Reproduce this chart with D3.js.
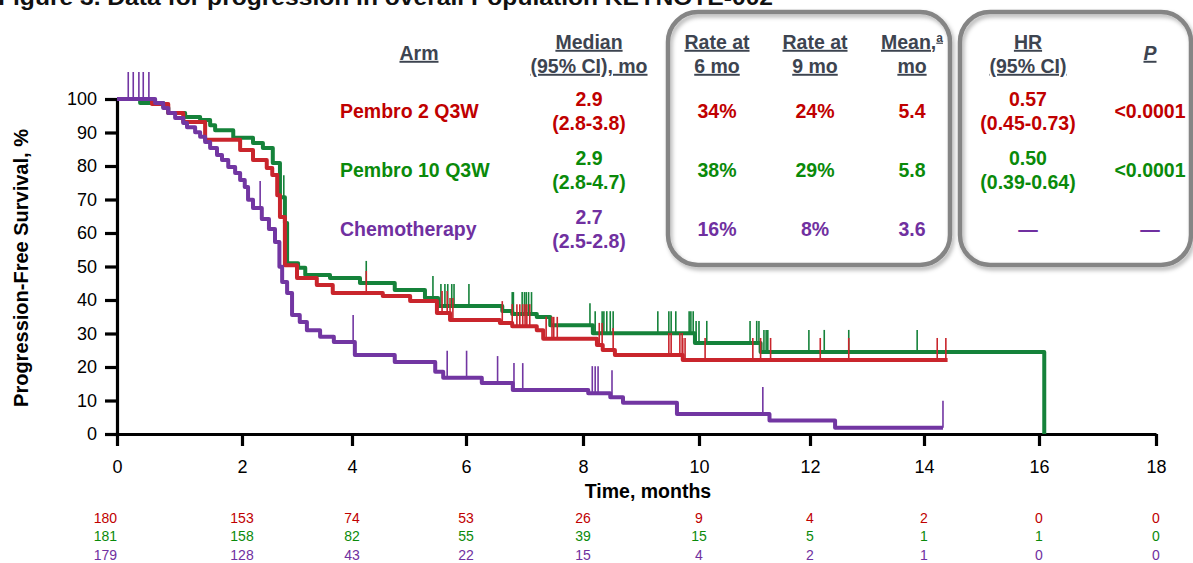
<!DOCTYPE html>
<html>
<head>
<meta charset="utf-8">
<script src="https://cdn.jsdelivr.net/npm/d3@7"></script>
<style>
  html, body { margin: 0; padding: 0; background: #fff; }
  svg { display: block; font-family: Arial, "Liberation Sans", sans-serif; }
</style>
</head>
<body>
<svg id="chart" width="1193" height="563"></svg>
<script>
// ---- Data -----------------------------------------------------------
const titleText = "Figure 3. Data for progression in overall Population KEYNOTE-002";

const arms = ["Pembro 2 Q3W", "Pembro 10 Q3W", "Chemotherapy"];
const medians = ["2.9", "2.9", "2.7"];
const medianCIs = ["(2.8-3.8)", "(2.8-4.7)", "(2.5-2.8)"];
const rate6 = ["34%", "38%", "16%"];
const rate9 = ["24%", "29%", "8%"];
const means = ["5.4", "5.8", "3.6"];
const hrs = ["0.57", "0.50", null];
const hrCIs = ["(0.45-0.73)", "(0.39-0.64)", null];
const pValues = ["<0.0001", "<0.0001", null];

const xTicks = [0, 2, 4, 6, 8, 10, 12, 14, 16, 18];
const yTicks = [0, 10, 20, 30, 40, 50, 60, 70, 80, 90, 100];

const atRiskPembro2 = [180, 153, 74, 53, 26, 9, 4, 2, 0, 0];
const atRiskPembro10 = [181, 158, 82, 55, 39, 15, 5, 1, 1, 0];
const atRiskChemo = [179, 128, 43, 22, 15, 4, 2, 1, 0, 0];

// Kaplan-Meier steps: [month, survival % after the event]
const pembro2Steps = [
  [0.56, 98.5], [0.82, 95.8], [1.06, 93.1], [1.41, 87.8], [1.97, 84.8], [2.2, 81.8],
  [2.45, 79.4], [2.55, 77.3], [2.64, 71.3], [2.69, 64.8], [2.78, 50.4], [3.0, 46.6],
  [3.36, 44.5], [3.65, 42.1], [4.54, 41.2], [5.02, 39.7], [5.49, 36.1], [5.72, 34.0],
  [6.58, 33.1], [6.79, 32.2], [7.21, 31.0], [7.32, 28.4], [8.24, 26.6], [8.34, 25.1],
  [8.55, 23.6], [9.72, 22.1]
];
const pembro2End = 14.41;
const pembro2Censored = [
  2.65, 4.25, 5.58, 5.67, 5.72, 5.77, 6.62, 6.79, 6.87, 6.92, 6.97, 7.01, 7.04, 7.09,
  7.37, 7.47, 7.5, 7.56, 8.28, 8.33, 8.52, 9.48, 9.52, 9.67, 9.71, 9.72, 9.76, 10.11,
  10.97, 11.11, 11.29, 12.18, 12.68, 14.23, 14.38
];

const pembro10Steps = [
  [0.37, 98.8], [0.74, 97.6], [0.82, 95.8], [1.09, 94.6], [1.33, 93.7], [1.49, 92.2],
  [1.57, 90.7], [1.86, 88.4], [2.2, 86.9], [2.38, 85.4], [2.56, 80.9], [2.69, 70.7],
  [2.78, 63.0], [2.82, 51.0], [3.02, 49.6], [3.15, 47.5], [3.6, 46.6], [4.14, 45.1],
  [4.75, 43.0], [5.28, 40.6], [5.51, 38.2], [6.62, 36.7], [6.79, 35.8], [7.21, 34.9],
  [7.44, 32.5], [8.17, 30.1], [9.93, 27.2], [11.11, 24.5], [16.09, 0]
];
const pembro10End = 16.09;
const pembro10Censored = [
  2.76, 4.25, 5.42, 5.56, 5.63, 5.68, 5.75, 5.79, 6.05, 6.79, 6.81, 6.96, 7.0, 7.03,
  7.07, 7.12, 8.12, 8.21, 8.33, 8.36, 8.41, 8.47, 8.52, 9.29, 9.48, 9.52, 9.6, 9.83,
  9.86, 9.9, 9.95, 10.0, 10.14, 10.92, 11.04, 11.08, 11.17, 11.21, 11.24, 11.98, 12.25,
  12.68, 13.88
];

const chemoSteps = [
  [0.61, 98.8], [0.74, 97.3], [0.82, 95.8], [0.93, 94.3], [1.06, 92.8], [1.12, 91.6],
  [1.25, 90.1], [1.33, 88.7], [1.41, 87.2], [1.49, 85.4], [1.6, 83.3], [1.68, 81.8],
  [1.78, 79.7], [1.89, 77.9], [1.97, 75.8], [2.05, 73.7], [2.11, 69.9], [2.2, 67.5],
  [2.36, 64.2], [2.49, 61.2], [2.6, 57.3], [2.68, 49.9], [2.73, 45.4], [2.82, 42.1],
  [2.91, 35.5], [3.05, 33.4], [3.18, 31.0], [3.42, 29.0], [3.67, 27.5], [4.05, 23.6],
  [4.75, 21.5], [5.46, 18.6], [5.6, 16.8], [6.27, 15.2], [6.8, 13.1], [8.09, 12.2],
  [8.47, 11.0], [8.69, 9.3], [9.62, 6.0], [11.27, 4.0], [12.44, 1.9]
];
const chemoEnd = 14.33;
const chemoCensored = [
  0.18, 0.26, 0.35, 0.42, 0.51, 2.33, 4.02, 5.67, 6.01, 6.54, 6.82, 6.97, 8.16, 8.21,
  8.26, 8.5, 11.15, 14.33
];

// ---- Styles ---------------------------------------------------------
const textColors = ["#C00000", "#0A8A0A", "#7030A0"];
const lineColors = ["#C9252C", "#15823A", "#7236A2"];
const headerColor = "#3D4450";

// ---- Setup ----------------------------------------------------------
const svg = d3.select("#chart");

const x = d3.scaleLinear()
  .domain(xTicks)
  .range([117, 242, 352, 466, 583, 699, 810, 924, 1039, 1156]);
const y = d3.scaleLinear().domain([0, 100]).range([434, 99]);

const defs = svg.append("defs");
const shadow = defs.append("filter").attr("id", "boxShadow")
  .attr("x", "-10%").attr("y", "-10%").attr("width", "125%").attr("height", "125%");
shadow.append("feDropShadow")
  .attr("dx", 2).attr("dy", 3).attr("stdDeviation", 2)
  .attr("flood-color", "#000").attr("flood-opacity", 0.3);

// Figure title, running off the top edge of the page
svg.append("text")
  .attr("x", -2).attr("y", 5)
  .attr("font-size", 22).attr("font-weight", "bold").attr("fill", "#111")
  .attr("textLength", 775).attr("lengthAdjust", "spacingAndGlyphs")
  .text(titleText);

// Rounded boxes around the rate/mean and HR/P columns
svg.append("rect")
  .attr("x", 668).attr("y", 12).attr("width", 282).attr("height", 253).attr("rx", 30)
  .attr("fill", "none").attr("stroke", "#858585").attr("stroke-width", 4.5)
  .attr("filter", "url(#boxShadow)");
svg.append("rect")
  .attr("x", 960).attr("y", 12).attr("width", 231).attr("height", 253).attr("rx", 30)
  .attr("fill", "none").attr("stroke", "#858585").attr("stroke-width", 4.5)
  .attr("filter", "url(#boxShadow)");

// ---- Summary table --------------------------------------------------
const tableFont = 19.5;
const header = svg.append("g")
  .attr("font-size", tableFont).attr("font-weight", "bold")
  .attr("fill", headerColor).attr("text-anchor", "middle")
  .style("text-decoration", "underline");

function headerText(cx, cy, str) {
  return header.append("text").attr("x", cx).attr("y", cy).attr("dy", "0.35em").text(str);
}
headerText(419, 53, "Arm");
headerText(589, 42, "Median");
headerText(589, 66, "(95% CI), mo");
headerText(717, 42, "Rate at");
headerText(717, 66, "6 mo");
headerText(815, 42, "Rate at");
headerText(815, 66, "9 mo");
const meanHead = headerText(912, 42, "Mean,");
meanHead.append("tspan").attr("font-size", 12).attr("dy", "-0.6em").text("a");
headerText(912, 66, "mo");
headerText(1028, 42, "HR");
headerText(1028, 66, "(95% CI)");
headerText(1150, 53, "P").attr("font-style", "italic");

const rowY = [111, 170, 229];
const rows = svg.append("g").attr("font-size", tableFont).attr("font-weight", "bold");

arms.forEach((arm, i) => {
  const g = rows.append("g").attr("fill", textColors[i]);
  const cy = rowY[i];
  g.append("text").attr("x", 340).attr("y", cy).attr("dy", "0.35em").text(arm);
  const mid = g.append("g").attr("text-anchor", "middle");
  mid.append("text").attr("x", 589).attr("y", cy - 12).attr("dy", "0.35em").text(medians[i]);
  mid.append("text").attr("x", 589).attr("y", cy + 12).attr("dy", "0.35em").text(medianCIs[i]);
  mid.append("text").attr("x", 717).attr("y", cy).attr("dy", "0.35em").text(rate6[i]);
  mid.append("text").attr("x", 815).attr("y", cy).attr("dy", "0.35em").text(rate9[i]);
  mid.append("text").attr("x", 912).attr("y", cy).attr("dy", "0.35em").text(means[i]);
  if (hrs[i] !== null) {
    mid.append("text").attr("x", 1028).attr("y", cy - 12).attr("dy", "0.35em").text(hrs[i]);
    mid.append("text").attr("x", 1028).attr("y", cy + 12).attr("dy", "0.35em").text(hrCIs[i]);
    mid.append("text").attr("x", 1150).attr("y", cy).attr("dy", "0.35em").text(pValues[i]);
  } else {
    mid.append("text").attr("x", 1028).attr("y", cy).attr("dy", "0.35em").text("\u2014");
    mid.append("text").attr("x", 1150).attr("y", cy).attr("dy", "0.35em").text("\u2014");
  }
});

// ---- Axes -----------------------------------------------------------
const yAxis = svg.append("g")
  .attr("transform", `translate(${x(0)},0)`)
  .call(d3.axisLeft(y).tickValues(yTicks).tickSize(12).tickSizeOuter(0).tickPadding(8));
const xAxis = svg.append("g")
  .attr("transform", `translate(0,${y(0)})`)
  .call(d3.axisBottom(x).tickValues(xTicks).tickSize(12).tickSizeOuter(0).tickPadding(14));

[xAxis, yAxis].forEach(ax => {
  ax.select(".domain").attr("stroke", "#000").attr("stroke-width", 3.2);
  ax.selectAll(".tick line").attr("stroke", "#000").attr("stroke-width", 3.2);
  ax.selectAll(".tick text").attr("font-size", 18).attr("fill", "#000")
    .attr("font-family", "Arial, 'Liberation Sans', sans-serif");
});

svg.append("text")
  .attr("x", 648).attr("y", 491).attr("dy", "0.35em")
  .attr("text-anchor", "middle").attr("font-size", 19.5).attr("font-weight", "bold")
  .text("Time, months");

svg.append("text")
  .attr("transform", `translate(21,268) rotate(-90)`)
  .attr("dy", "0.35em")
  .attr("text-anchor", "middle").attr("font-size", 20).attr("font-weight", "bold")
  .text("Progression-Free Survival, %");

// ---- Kaplan-Meier curves -------------------------------------------
const stepLine = d3.line()
  .x(d => x(d[0])).y(d => y(d[1]))
  .curve(d3.curveStepAfter);

function survivalAt(steps, t) {
  let s = 100;
  for (const [st, sv] of steps) { if (st <= t) s = sv; else break; }
  return s;
}

const series = [
  { steps: pembro10Steps, end: pembro10End, censored: pembro10Censored, color: lineColors[1], tick: 22 },
  { steps: pembro2Steps, end: pembro2End, censored: pembro2Censored, color: lineColors[0], tick: 22 },
  { steps: chemoSteps, end: chemoEnd, censored: chemoCensored, color: lineColors[2], tick: 27 }
];

series.forEach(sr => {
  const pts = [[0, 100], ...sr.steps];
  const last = pts[pts.length - 1];
  if (last[0] < sr.end) pts.push([sr.end, last[1]]);
  const g = svg.append("g");
  g.append("path")
    .attr("d", stepLine(pts))
    .attr("fill", "none").attr("stroke", sr.color)
    .attr("stroke-width", 4).attr("stroke-linejoin", "round");
  g.selectAll("line.censor")
    .data(sr.censored)
    .join("line")
    .attr("class", "censor")
    .attr("x1", d => x(d)).attr("x2", d => x(d))
    .attr("y1", d => y(survivalAt(sr.steps, d)))
    .attr("y2", d => y(survivalAt(sr.steps, d)) - sr.tick)
    .attr("stroke", sr.color).attr("stroke-width", 1.6);
});

// ---- Numbers at risk ------------------------------------------------
const atRisk = [atRiskPembro2, atRiskPembro10, atRiskChemo];
const riskY = [518, 536, 555];
atRisk.forEach((vals, i) => {
  svg.append("g")
    .attr("font-size", 14).attr("fill", textColors[i])
    .selectAll("text")
    .data(vals)
    .join("text")
    .attr("x", (d, j) => x(xTicks[j]))
    .attr("y", riskY[i]).attr("dy", "0.35em")
    .attr("text-anchor", (d, j) => j === 0 ? "end" : "middle")
    .text(d => d);
});
</script>
</body>
</html>
